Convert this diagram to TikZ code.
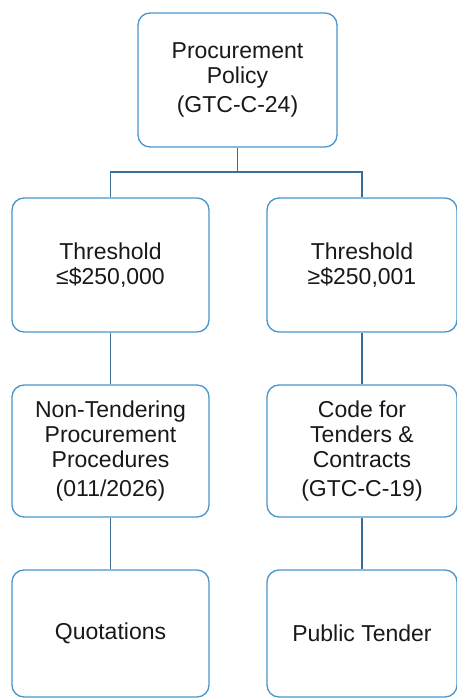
\documentclass[tikz,border=0pt]{standalone}
\usepackage{fontspec}
\setmainfont{Liberation Sans}
\usepackage{xcolor}
\usepackage{tikz}
\usetikzlibrary{positioning}
\definecolor{boxblue}{RGB}{72,150,204}
\definecolor{linkblue}{RGB}{58,110,150}
\definecolor{inkgrey}{RGB}{25,25,25}
\tikzset{orgbox/.style={
  draw=boxblue, line width=1.3pt, rounded corners=12pt, fill=white,
  align=center, text=inkgrey, inner sep=0pt,
  font=\fontsize{23pt}{25pt}\selectfont},
  link/.style={draw=linkblue, line width=1.2pt}}

\begin{document}
\begin{tikzpicture}[x=1pt,y=1pt]
  \useasboundingbox[fill=white] (0,0) rectangle (456,699);
  % top
  \node[orgbox, minimum width=199pt, minimum height=134pt] (policy) at (237.5,619)
    {Procurement\\Policy\\[4pt](GTC-C-24)};
  % thresholds
  \node[orgbox, minimum width=197pt, minimum height=134pt] (lowthr) at (110.5,434)
    {Threshold\\≤\$250,000};
  \node[orgbox, minimum width=190pt, minimum height=134pt] (highthr) at (362,434)
    {Threshold\\≥\$250,001};
  % rules
  \node[orgbox, minimum width=197pt, minimum height=132pt] (nontender) at (110.5,248)
    {Non-Tendering\\Procurement\\Procedures\\[4pt](011/2026)};
  \node[orgbox, minimum width=190pt, minimum height=132pt] (tendercode) at (362,248)
    {Code for\\Tenders \&\\Contracts\\[4pt](GTC-C-19)};
  % methods
  \node[orgbox, minimum width=197pt, minimum height=127pt] (quotes) at (110.5,65.5)
    {Quotations};
  \node[orgbox, minimum width=190pt, minimum height=127pt] (pubtender) at (362,65.5)
    {Public Tender};
  % connectors
  \coordinate (split) at (237.5,527);
  \draw[link] (policy.south) -- (split);
  \draw[link] (split) -| (lowthr.north);
  \draw[link] (split) -| (highthr.north);
  \draw[link] (lowthr.south) -- (nontender.north);
  \draw[link] (highthr.south) -- (tendercode.north);
  \draw[link] (nontender.south) -- (quotes.north);
  \draw[link] (tendercode.south) -- (pubtender.north);
\end{tikzpicture}
\end{document}
